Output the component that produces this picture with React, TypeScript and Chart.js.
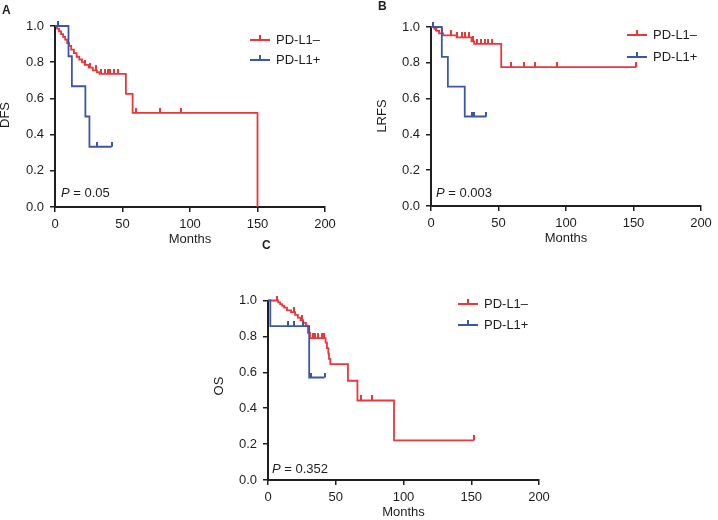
import React, { useEffect, useRef } from 'react';
import { Chart, registerables } from 'chart.js';

Chart.register(...registerables);

const RED = '#e5393c';
const BLUE = '#3c57a8';
const INK = '#1e1e1e';
const FONT = '"Liberation Sans", Arial, Helvetica, sans-serif';

const seriesNames = ['PD-L1–', 'PD-L1+'];
const xTicks = [0, 50, 100, 150, 200];
const yTicks = [0, 0.2, 0.4, 0.6, 0.8, 1.0];

// Panel A – DFS
const aNegTimes = [0, 1.5, 3, 4.5, 6, 7.5, 9, 10.5, 12, 14, 16, 18, 20, 22, 25, 28, 31, 33, 52.5, 57.5, 150];
const aNegSurv = [1, 0.985, 0.97, 0.955, 0.94, 0.925, 0.905, 0.89, 0.87, 0.85, 0.83, 0.815, 0.8, 0.785, 0.77, 0.755, 0.745, 0.735, 0.625, 0.52, 0];
const aNegCensor = [22, 26, 30, 34, 37, 39, 41, 44, 47, 60, 78, 93];
const aPosTimes = [0, 10, 12.5, 22.5, 25.5, 42];
const aPosSurv = [1, 0.833, 0.667, 0.5, 0.333, 0.333];
const aPosCensor = [2.5, 31, 42];

// Panel B – LRFS
const bNegTimes = [0, 2.5, 4, 6, 9, 19, 30, 32, 52, 152];
const bNegSurv = [1, 0.99, 0.978, 0.964, 0.953, 0.942, 0.92, 0.906, 0.776, 0.776];
const bNegCensor = [4, 8, 15, 19, 23, 25, 28, 31, 34, 37, 40, 42, 45, 59, 69, 77, 93, 152];
const bPosTimes = [0, 8, 12.5, 25, 41];
const bPosSurv = [1, 0.833, 0.667, 0.5, 0.5];
const bPosCensor = [1.5, 30, 32, 41];

// Panel C – OS
const cNegTimes = [0, 7.5, 9, 10.5, 12, 14, 17, 20, 22, 24, 26, 28, 29.5, 31, 42.5, 43.5, 44.5, 45, 46, 59, 66, 93, 152];
const cNegSurv = [1, 0.99, 0.98, 0.97, 0.96, 0.945, 0.935, 0.92, 0.905, 0.89, 0.875, 0.86, 0.82, 0.79, 0.765, 0.735, 0.705, 0.675, 0.645, 0.553, 0.443, 0.221, 0.221];
const cNegCensor = [6.5, 19.5, 25, 33, 35, 37, 39.5, 41, 68.5, 77, 152];
const cPosTimes = [0, 1.7, 30.4, 41.7];
const cPosSurv = [1, 0.857, 0.571, 0.571];
const cPosCensor = [15, 19, 26, 32, 41.7];

type Group = { times: number[]; surv: number[]; censor: number[] };
type Panel = {
  letter: string;
  yTitle: string;
  pValue: string;
  neg: Group;
  pos: Group;
  area: { L: number; R: number; T: number; B: number };
  letterPos: [number, number];
  yTitlePos: [number, number];
  pPos: [number, number];
  legendPos: [number, number, number];
};

const panels: Panel[] = [
  {
    letter: 'A', yTitle: 'DFS', pValue: '0.05',
    neg: { times: aNegTimes, surv: aNegSurv, censor: aNegCensor },
    pos: { times: aPosTimes, surv: aPosSurv, censor: aPosCensor },
    area: { L: 55, R: 325, T: 26, B: 207 },
    letterPos: [2, 11], yTitlePos: [5, 115], pPos: [61, 193], legendPos: [250, 40, 20],
  },
  {
    letter: 'B', yTitle: 'LRFS', pValue: '0.003',
    neg: { times: bNegTimes, surv: bNegSurv, censor: bNegCensor },
    pos: { times: bPosTimes, surv: bPosSurv, censor: bPosCensor },
    area: { L: 431, R: 701, T: 27, B: 206 },
    letterPos: [378, 7], yTitlePos: [382, 116], pPos: [436, 193], legendPos: [627, 35, 22],
  },
  {
    letter: 'C', yTitle: 'OS', pValue: '0.352',
    neg: { times: cNegTimes, surv: cNegSurv, censor: cNegCensor },
    pos: { times: cPosTimes, surv: cPosSurv, censor: cPosCensor },
    area: { L: 268, R: 539, T: 300.5, B: 480 },
    letterPos: [262, 246], yTitlePos: [219, 386], pPos: [272, 469], legendPos: [458, 304, 21],
  },
];

const W = 718;
const H = 520;

function stepData(times: number[], surv: number[]) {
  return times.map((t, i) => ({ x: t, y: surv[i] }));
}

function survAt(times: number[], surv: number[], t: number) {
  let s = surv[0];
  for (let i = 0; i < times.length; i++) if (times[i] <= t) s = surv[i];
  return s;
}

function tickImage(color: string) {
  const c = document.createElement('canvas');
  c.width = 2;
  c.height = 10;
  const g = c.getContext('2d')!;
  g.fillStyle = color;
  g.fillRect(0, 0, 2, 5);
  return c;
}

function makeChart(canvas: HTMLCanvasElement, p: Panel) {
  const { L, R, T, B } = p.area;
  const Wy = 40;
  const Hx = 30;
  const redTick = tickImage(RED);
  const blueTick = tickImage(BLUE);

  const textPlugin = {
    id: 'panelText' + p.letter,
    afterDraw(chart: any) {
      const ctx: CanvasRenderingContext2D = chart.ctx;
      ctx.save();
      ctx.fillStyle = INK;
      ctx.textBaseline = 'middle';
      ctx.font = `bold 12px ${FONT}`;
      ctx.textAlign = 'left';
      ctx.fillText(p.letter, p.letterPos[0], p.letterPos[1]);
      ctx.font = `13px ${FONT}`;
      ctx.save();
      ctx.translate(p.yTitlePos[0], p.yTitlePos[1]);
      ctx.rotate(-Math.PI / 2);
      ctx.textAlign = 'center';
      ctx.fillText(p.yTitle, 0, 0);
      ctx.restore();
      ctx.textAlign = 'center';
      const xs = chart.scales.x;
      ctx.fillText('Months', (xs.left + xs.right) / 2, B + 32);
      ctx.textAlign = 'left';
      ctx.font = `italic 13px ${FONT}`;
      ctx.fillText('P', p.pPos[0], p.pPos[1]);
      const pw = ctx.measureText('P').width;
      ctx.font = `13px ${FONT}`;
      ctx.fillText(' = ' + p.pValue, p.pPos[0] + pw, p.pPos[1]);
      const [lx, ly, gap] = p.legendPos;
      [RED, BLUE].forEach((col, i) => {
        const y = ly + i * gap;
        ctx.strokeStyle = col;
        ctx.lineWidth = 2;
        ctx.beginPath();
        ctx.moveTo(lx, y);
        ctx.lineTo(lx + 20, y);
        ctx.moveTo(lx + 10, y);
        ctx.lineTo(lx + 10, y - 5);
        ctx.stroke();
        ctx.fillStyle = INK;
        ctx.fillText(seriesNames[i], lx + 26, y);
      });
      ctx.restore();
    },
  };

  const curve = (g: Group, color: string) => ({
    type: 'line' as const,
    data: stepData(g.times, g.surv),
    borderColor: color,
    borderWidth: 1.8,
    pointRadius: 0,
    stepped: 'before' as const,
    fill: false,
    clip: false as any,
  });
  const censor = (g: Group, color: string, img: HTMLCanvasElement) => ({
    type: 'scatter' as const,
    data: g.censor.map((t) => ({ x: t, y: survAt(g.times, g.surv, t) })),
    borderColor: color,
    backgroundColor: color,
    pointStyle: img as any,
    pointRadius: 3,
    showLine: false,
    clip: false as any,
  });

  const axisCommon = {
    type: 'linear' as const,
    grid: { drawOnChartArea: false, drawTicks: true, tickLength: 5, color: INK, lineWidth: 1.5 },
    border: { display: true, color: INK, width: 2 },
  };

  return new Chart(canvas, {
    type: 'line',
    data: {
      datasets: [
        censor(p.pos, BLUE, blueTick),
        curve(p.pos, BLUE),
        censor(p.neg, RED, redTick),
        curve(p.neg, RED),
      ] as any,
    },
    options: {
      animation: false,
      responsive: false,
      maintainAspectRatio: false,
      events: [],
      layout: { padding: { left: L - Wy, right: W - R, top: T, bottom: H - B - Hx } },
      plugins: { legend: { display: false }, tooltip: { enabled: false } },
      scales: {
        x: {
          ...axisCommon,
          min: 0,
          max: 200,
          afterBuildTicks: (s: any) => { s.ticks = xTicks.map((v) => ({ value: v })); },
          ticks: { color: INK, font: { family: FONT, size: 13 }, padding: 5, maxRotation: 0, autoSkip: false },
          afterFit: (s: any) => { s.height = Hx; },
        },
        y: {
          ...axisCommon,
          min: 0,
          max: 1,
          afterBuildTicks: (s: any) => { s.ticks = yTicks.map((v) => ({ value: v })); },
          ticks: {
            color: INK,
            font: { family: FONT, size: 13 },
            padding: 6,
            autoSkip: false,
            callback: (v: any) => Number(v).toFixed(1),
          },
          afterFit: (s: any) => { s.width = Wy; },
        },
      } as any,
    },
    plugins: [textPlugin],
  });
}

function KMPanel({ panel }: { panel: Panel }) {
  const ref = useRef<HTMLCanvasElement>(null);
  useEffect(() => {
    const chart = makeChart(ref.current!, panel);
    return () => chart.destroy();
  }, [panel]);
  return (
    <canvas
      ref={ref}
      width={W}
      height={H}
      style={{ position: 'absolute', left: 0, top: 0, width: W, height: H }}
    />
  );
}

export default function App() {
  return (
    <div style={{ position: 'absolute', left: 0, top: 0, width: W, height: H, background: '#fff', overflow: 'hidden' }}>
      {panels.map((p) => (
        <KMPanel key={p.letter} panel={p} />
      ))}
    </div>
  );
}
